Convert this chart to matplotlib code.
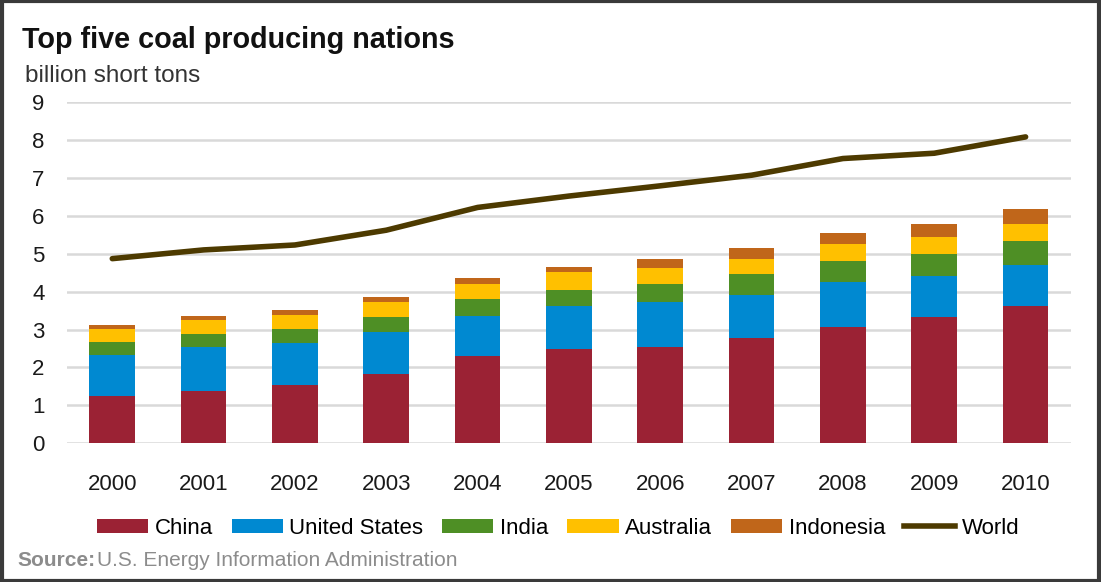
import matplotlib
matplotlib.use("Agg")
import matplotlib.pyplot as plt
from matplotlib.patches import Patch, Rectangle
from matplotlib.lines import Line2D
import numpy as np

plt.rcParams['font.family'] = ['Liberation Sans', 'DejaVu Sans']

years = ["2000", "2001", "2002", "2003", "2004", "2005", "2006", "2007", "2008", "2009", "2010"]
china = [1.25, 1.39, 1.54, 1.83, 2.29, 2.49, 2.53, 2.77, 3.08, 3.32, 3.62]
united_states = [1.09, 1.14, 1.11, 1.10, 1.08, 1.12, 1.19, 1.15, 1.18, 1.09, 1.09]
india = [0.33, 0.35, 0.37, 0.39, 0.44, 0.44, 0.48, 0.54, 0.54, 0.58, 0.63]
australia = [0.35, 0.38, 0.37, 0.40, 0.39, 0.46, 0.41, 0.39, 0.45, 0.46, 0.44]
indonesia = [0.10, 0.11, 0.13, 0.15, 0.16, 0.15, 0.24, 0.30, 0.29, 0.34, 0.40]
world = [4.87, 5.10, 5.23, 5.62, 6.22, 6.52, 6.79, 7.07, 7.51, 7.65, 8.08]
yticks = [0, 1, 2, 3, 4, 5, 6, 7, 8, 9]

series = [("China", china, "#9b2234"),
          ("United States", united_states, "#0089d1"),
          ("India", india, "#4e8f25"),
          ("Australia", australia, "#ffc000"),
          ("Indonesia", indonesia, "#c0661a")]
world_color = "#4d3a00"

fig = plt.figure(figsize=(11.01, 5.82), dpi=100)
ax = fig.add_axes([0.0605, 0.2383, 0.9125, 0.5864])

x = np.arange(len(years))
bottom = np.zeros(len(years))
for name, vals, col in series:
    ax.bar(x, vals, width=0.5, bottom=bottom, color=col, zorder=2)
    bottom += np.array(vals)
ax.plot(x, world, color=world_color, lw=4, zorder=3, solid_capstyle='round')

ax.set_xlim(-0.5, 10.5)
ax.set_ylim(0, 9)
ax.set_yticks(yticks)
ax.set_yticklabels([str(v) for v in yticks])
ax.set_xticks(x)
ax.set_xticklabels(years)
ax.grid(axis='y', color='#d9d9d9', lw=1.8, zorder=0)
ax.set_axisbelow(True)
for s in ax.spines.values():
    s.set_visible(False)
ax.tick_params(axis='both', length=0, labelsize=16, colors='#1a1a1a')
ax.tick_params(axis='y', pad=16)
ax.tick_params(axis='x', pad=22)

fig.text(0.02, 0.931, "Top five coal producing nations", fontsize=20.7, fontweight='bold',
         color='#111111', va='center', ha='left')
fig.text(0.023, 0.869, "billion short tons", fontsize=17.5, color='#333333', va='center', ha='left')

handles = [Patch(facecolor=c, edgecolor='none') for _, _, c in series]
handles.append(Line2D([0], [0], color=world_color, lw=4))
labels = [n for n, _, _ in series] + ["World"]
fig.legend(handles, labels, loc='center', bbox_to_anchor=(0.507, 1 - 528 / 582), ncol=6,
           frameon=False, fontsize=16, handlelength=2.3, handleheight=0.6,
           handletextpad=0.3, columnspacing=0.85)

fig.text(0.0155, 1 - 561 / 582, "Source:", fontsize=15, fontweight='bold', color='#8c8c8c',
         va='center', ha='left')
fig.text(0.0155 + 0.0725, 1 - 561 / 582, "U.S. Energy Information Administration", fontsize=15,
         color='#8c8c8c', va='center', ha='left')

fig.add_artist(Rectangle((0.0015, 0.0025), 0.997, 0.995, transform=fig.transFigure,
                         fill=False, edgecolor='#3a3a3a', lw=3))

fig.savefig("out.png", dpi=100)
